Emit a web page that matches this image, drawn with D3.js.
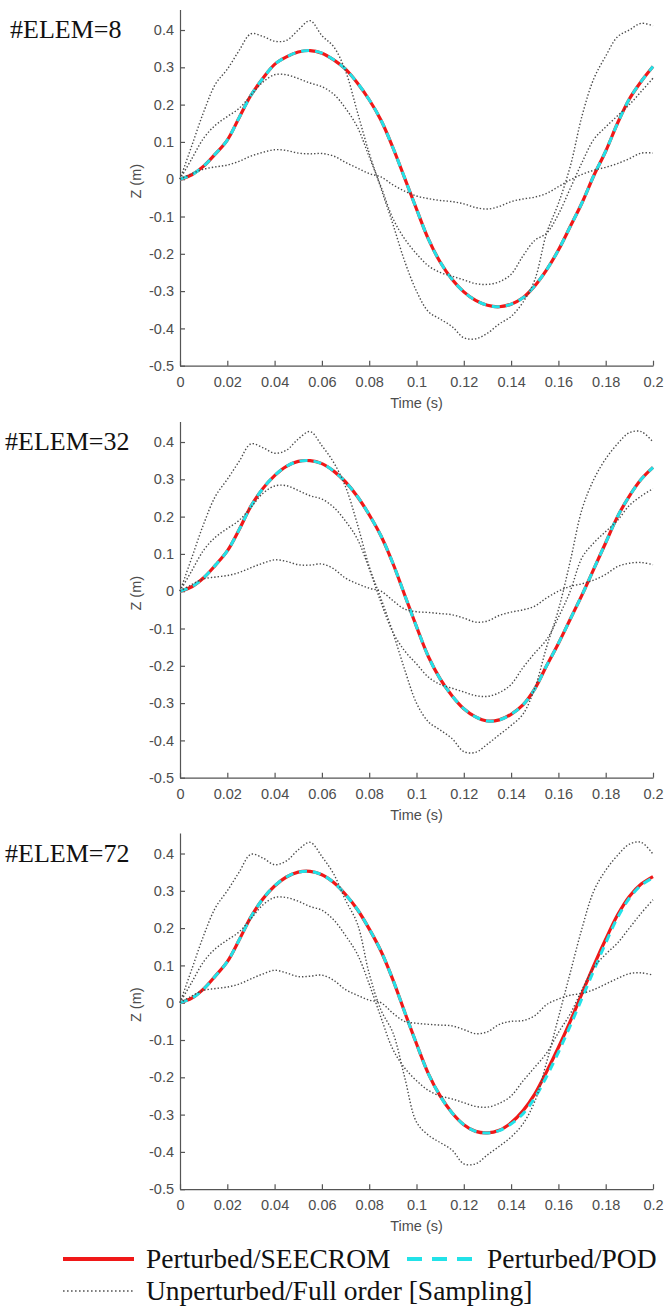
<!DOCTYPE html>
<html>
<head>
<meta charset="utf-8">
<script src="https://cdn.jsdelivr.net/npm/d3@7/dist/d3.min.js"></script>
<style>
    html, body { margin: 0; padding: 0; background: #fff; }
    svg { display: block; }
    .axis path, .axis line { stroke: #555; stroke-width: 1.2; }
    .axis .tick text { font-family: 'Liberation Sans', Arial, sans-serif; font-size: 14.5px; fill: #4d4d4d; }
    .axis-label { font-family: 'Liberation Sans', Arial, sans-serif; font-size: 14.5px; fill: #4d4d4d; }
    .panel-title, .legend text { font-family: 'Liberation Serif', 'Times New Roman', serif; fill: #111; }
    .seecrom { fill: none; stroke: #f01818; stroke-width: 3.2; }
    .pod { fill: none; stroke: #22e2e8; stroke-width: 3; stroke-dasharray: 8,6; }
    .sampling { fill: none; stroke: #4a4a4a; stroke-width: 1.4; stroke-dasharray: 1.4,2; }
</style>
</head>
<body>
<svg id="chart" width="666" height="1315"></svg>
<script>
// time samples (s)
const time = [0, 0.005, 0.01, 0.015, 0.02, 0.025, 0.03, 0.035, 0.04, 0.045,
    0.05, 0.055, 0.06, 0.065, 0.07, 0.075, 0.08, 0.085, 0.09, 0.095,
    0.1, 0.105, 0.11, 0.115, 0.12, 0.125, 0.13, 0.135, 0.14, 0.145,
    0.15, 0.155, 0.16, 0.165, 0.17, 0.175, 0.18, 0.185, 0.19, 0.195, 0.2];

const xTicks = [0, 0.02, 0.04, 0.06, 0.08, 0.1, 0.12, 0.14, 0.16, 0.18, 0.2];
const yTicks = [-0.5, -0.4, -0.3, -0.2, -0.1, 0, 0.1, 0.2, 0.3, 0.4];

const panelTitles = ['#ELEM=8', '#ELEM=32', '#ELEM=72'];
const legendLabels = ['Perturbed/SEECROM', 'Perturbed/POD', 'Unperturbed/Full order [Sampling]'];

// #ELEM=8
const seecrom8 = [0, 0.012, 0.035, 0.068, 0.105, 0.165, 0.225, 0.27, 0.308, 0.328,
    0.341, 0.345, 0.338, 0.32, 0.295, 0.258, 0.213, 0.158, 0.085, 0.003,
    -0.08, -0.16, -0.222, -0.268, -0.302, -0.325, -0.338, -0.342, -0.335, -0.318,
    -0.286, -0.243, -0.19, -0.127, -0.063, 0.01, 0.075, 0.15, 0.215, 0.262, 0.302];
const pod8 = seecrom8;
const sampA8 = [0, 0.09, 0.18, 0.255, 0.295, 0.345, 0.39, 0.383, 0.37, 0.372,
    0.4, 0.425, 0.385, 0.355, 0.29, 0.18, 0.07, -0.025, -0.12, -0.22,
    -0.3, -0.355, -0.375, -0.395, -0.425, -0.428, -0.413, -0.388, -0.368, -0.33,
    -0.27, -0.145, -0.065, 0.034, 0.17, 0.27, 0.33, 0.382, 0.4, 0.418, 0.411];
const sampB8 = [0, 0.055, 0.11, 0.145, 0.168, 0.19, 0.225, 0.26, 0.28, 0.28,
    0.27, 0.258, 0.248, 0.228, 0.19, 0.14, 0.06, -0.02, -0.105, -0.16,
    -0.2, -0.232, -0.25, -0.26, -0.27, -0.28, -0.282, -0.275, -0.255, -0.206,
    -0.164, -0.145, -0.094, -0.025, 0.045, 0.107, 0.14, 0.17, 0.2, 0.235, 0.271];
const sampC8 = [0, 0.015, 0.027, 0.033, 0.038, 0.048, 0.062, 0.072, 0.079, 0.077,
    0.07, 0.068, 0.069, 0.062, 0.045, 0.03, 0.015, 0.006, -0.015, -0.032,
    -0.045, -0.052, -0.057, -0.06, -0.066, -0.076, -0.08, -0.073, -0.06, -0.053,
    -0.048, -0.038, -0.02, -0.002, 0.013, 0.024, 0.032, 0.042, 0.055, 0.07, 0.07];

// #ELEM=32
const seecrom32 = [0, 0.012, 0.036, 0.07, 0.108, 0.165, 0.228, 0.275, 0.31, 0.335,
    0.348, 0.35, 0.342, 0.322, 0.293, 0.254, 0.205, 0.148, 0.075, -0.01,
    -0.095, -0.175, -0.235, -0.28, -0.315, -0.337, -0.348, -0.345, -0.33, -0.305,
    -0.262, -0.2, -0.14, -0.075, -0.01, 0.06, 0.13, 0.2, 0.255, 0.3, 0.332];
const pod32 = seecrom32;
const sampA32 = [0, 0.09, 0.18, 0.255, 0.3, 0.348, 0.395, 0.385, 0.37, 0.378,
    0.408, 0.428, 0.39, 0.345, 0.28, 0.18, 0.066, -0.02, -0.11, -0.21,
    -0.3, -0.35, -0.372, -0.395, -0.43, -0.432, -0.41, -0.385, -0.36, -0.33,
    -0.26, -0.15, -0.05, 0.08, 0.22, 0.3, 0.355, 0.395, 0.425, 0.428, 0.4];
const sampB32 = [0, 0.055, 0.11, 0.145, 0.168, 0.19, 0.225, 0.262, 0.282, 0.283,
    0.27, 0.256, 0.247, 0.225, 0.188, 0.14, 0.06, -0.03, -0.11, -0.16,
    -0.195, -0.23, -0.25, -0.26, -0.27, -0.28, -0.282, -0.272, -0.25, -0.205,
    -0.166, -0.13, -0.07, 0, 0.09, 0.13, 0.16, 0.19, 0.23, 0.255, 0.275];
const sampC32 = [0, 0.018, 0.033, 0.038, 0.042, 0.05, 0.063, 0.075, 0.084, 0.08,
    0.071, 0.07, 0.073, 0.06, 0.035, 0.02, 0.008, 0, -0.025, -0.048,
    -0.055, -0.057, -0.06, -0.063, -0.072, -0.083, -0.08, -0.065, -0.056, -0.05,
    -0.04, -0.018, 0, 0.013, 0.02, 0.03, 0.045, 0.066, 0.075, 0.077, 0.071];

// #ELEM=72
const seecrom72 = [0, 0.012, 0.037, 0.072, 0.11, 0.168, 0.23, 0.278, 0.313, 0.337,
    0.35, 0.352, 0.343, 0.322, 0.29, 0.25, 0.198, 0.138, 0.062, -0.025,
    -0.11, -0.19, -0.25, -0.295, -0.327, -0.345, -0.349, -0.342, -0.322, -0.29,
    -0.245, -0.185, -0.12, -0.05, 0.025, 0.1, 0.17, 0.235, 0.285, 0.318, 0.338];
const pod72 = [0, 0.012, 0.037, 0.072, 0.11, 0.168, 0.23, 0.278, 0.313, 0.337,
    0.35, 0.352, 0.343, 0.322, 0.29, 0.25, 0.198, 0.138, 0.062, -0.025,
    -0.11, -0.19, -0.25, -0.295, -0.327, -0.345, -0.349, -0.343, -0.325, -0.298,
    -0.255, -0.198, -0.133, -0.062, 0.012, 0.087, 0.16, 0.228, 0.28, 0.315, 0.335];
const sampA72 = [0, 0.09, 0.18, 0.255, 0.3, 0.35, 0.398, 0.388, 0.37, 0.38,
    0.41, 0.43, 0.392, 0.345, 0.275, 0.212, 0.078, -0.02, -0.08, -0.2,
    -0.32, -0.355, -0.375, -0.395, -0.432, -0.432, -0.408, -0.385, -0.36, -0.325,
    -0.265, -0.16, -0.04, 0.08, 0.2, 0.3, 0.355, 0.395, 0.425, 0.43, 0.398];
const sampB72 = [0, 0.055, 0.11, 0.145, 0.168, 0.19, 0.225, 0.262, 0.282, 0.282,
    0.272, 0.258, 0.248, 0.222, 0.18, 0.13, 0.05, -0.04, -0.125, -0.175,
    -0.209, -0.235, -0.25, -0.258, -0.268, -0.278, -0.28, -0.27, -0.25, -0.21,
    -0.173, -0.135, -0.08, -0.03, 0.035, 0.095, 0.13, 0.16, 0.2, 0.24, 0.276];
const sampC72 = [0, 0.018, 0.033, 0.038, 0.042, 0.05, 0.064, 0.077, 0.087, 0.08,
    0.07, 0.071, 0.074, 0.06, 0.035, 0.02, 0.007, 0, -0.028, -0.05,
    -0.055, -0.058, -0.06, -0.062, -0.072, -0.083, -0.078, -0.058, -0.05, -0.048,
    -0.035, -0.005, 0.01, 0.02, 0.025, 0.035, 0.05, 0.065, 0.078, 0.08, 0.074];

const panels = [
    {title: panelTitles[0], seecrom: seecrom8, pod: pod8, sampling: [sampA8, sampB8, sampC8]},
    {title: panelTitles[1], seecrom: seecrom32, pod: pod32, sampling: [sampA32, sampB32, sampC32]},
    {title: panelTitles[2], seecrom: seecrom72, pod: pod72, sampling: [sampA72, sampB72, sampC72]},
];

const panelTop = [0, 412, 823.5];
const plot = {left: 180, right: 653, top: 9.5, bottom: 365.7};
const yMax = 0.455;

const fmt = d => String(+d.toFixed(2)).replace('\u2212', '-');

const svg = d3.select('#chart');

const xScale = d3.scaleLinear()
    .domain([0, 0.2])
    .range([plot.left, plot.right]);

panels.forEach((p, i) => {
    const off = panelTop[i];
    const yScale = d3.scaleLinear()
        .domain([-0.5, yMax])
        .range([plot.bottom + off, plot.top + off]);

    const g = svg.append('g').attr('class', 'panel');

    g.append('g')
        .attr('class', 'axis axis-x')
        .attr('transform', 'translate(0,' + (plot.bottom + off) + ')')
        .call(d3.axisBottom(xScale)
            .tickValues(xTicks)
            .tickFormat(fmt)
            .tickSizeInner(-5)
            .tickSizeOuter(0)
            .tickPadding(11));

    g.append('g')
        .attr('class', 'axis axis-y')
        .attr('transform', 'translate(' + plot.left + ',0)')
        .call(d3.axisLeft(yScale)
            .tickValues(yTicks)
            .tickFormat(fmt)
            .tickSizeInner(-5)
            .tickSizeOuter(0)
            .tickPadding(6));

    const line = values => d3.line()
        .x((_, j) => xScale(time[j]))
        .y(d => yScale(d))
        .curve(d3.curveCatmullRom.alpha(0.5))(values);

    g.append('path').attr('class', 'seecrom').attr('d', line(p.seecrom));
    g.append('path').attr('class', 'pod').attr('d', line(p.pod));

    g.selectAll('path.sampling')
        .data(p.sampling)
        .enter()
        .append('path')
        .attr('class', 'sampling')
        .attr('d', d => line(d));

    g.append('text')
        .attr('class', 'axis-label')
        .attr('x', (plot.left + plot.right) / 2)
        .attr('y', plot.bottom + off + 42)
        .attr('text-anchor', 'middle')
        .text('Time (s)');

    g.append('text')
        .attr('class', 'axis-label')
        .attr('transform', 'translate(136,' + (yScale(0) + 2) + ') rotate(-90)')
        .attr('text-anchor', 'middle')
        .attr('dy', '0.35em')
        .text('Z (m)');

    g.append('text')
        .attr('class', 'panel-title')
        .attr('x', i === 0 ? 10 : 5)
        .attr('y', off + 38)
        .style('font-size', '26px')
        .text(p.title);
});

// legend
const legend = svg.append('g').attr('class', 'legend');
const row1 = 1259, row2 = 1291;

legend.append('line')
    .attr('x1', 63).attr('x2', 134).attr('y1', row1).attr('y2', row1)
    .attr('stroke', '#f01818').attr('stroke-width', 4);
legend.append('text')
    .attr('x', 146).attr('y', row1).attr('dy', '0.33em')
    .style('font-size', '27.5px')
    .text(legendLabels[0]);

legend.append('line')
    .attr('x1', 407).attr('x2', 476).attr('y1', row1).attr('y2', row1)
    .attr('stroke', '#22e2e8').attr('stroke-width', 4)
    .attr('stroke-dasharray', '15,10');
legend.append('text')
    .attr('x', 487).attr('y', row1).attr('dy', '0.33em')
    .style('font-size', '27.5px')
    .text(legendLabels[1]);

legend.append('line')
    .attr('x1', 63).attr('x2', 134).attr('y1', row2).attr('y2', row2)
    .attr('stroke', '#555').attr('stroke-width', 1.6)
    .attr('stroke-dasharray', '1.6,2.4');
legend.append('text')
    .attr('x', 146).attr('y', row2).attr('dy', '0.33em')
    .style('font-size', '27.5px')
    .text(legendLabels[2]);
</script>
</body>
</html>
